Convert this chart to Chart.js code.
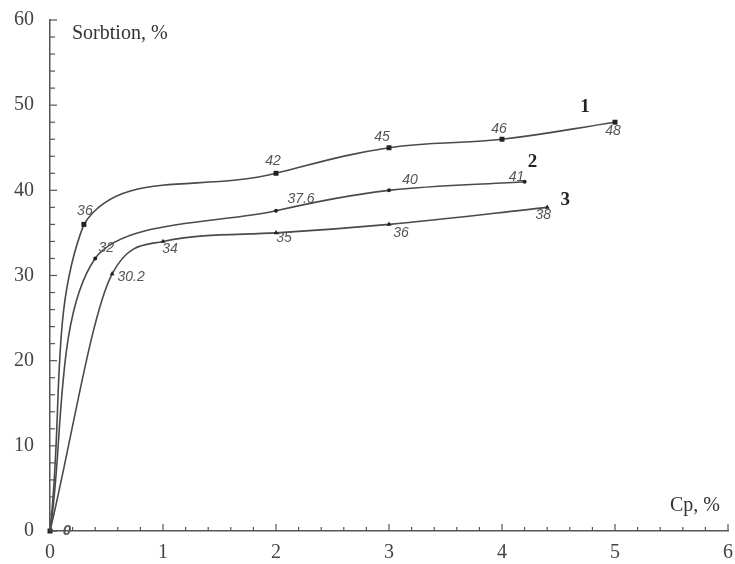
<!DOCTYPE html>
<html>
<head>
<meta charset="utf-8">
<script src="https://cdn.jsdelivr.net/npm/chart.js@4.4.1/dist/chart.umd.min.js"></script>
<style>
  html, body { margin: 0; padding: 0; background: #ffffff; }
  #wrap { width: 735px; height: 564px; }
</style>
</head>
<body>
<div id="wrap"><canvas id="c" width="735" height="564"></canvas></div>
<script>
// ---- data ----
const series1X = [0, 0.3, 2, 3, 4, 5];
const series1Y = [0, 36, 42, 45, 46, 48];
const series2X = [0, 0.4, 2, 3, 4.2];
const series2Y = [0, 32, 37.6, 40, 41];
const series3X = [0, 0.55, 1, 2, 3, 4.4];
const series3Y = [0, 30.2, 34, 35, 36, 38];
const seriesNames = ['1', '2', '3'];
const xTickLabels = [0, 1, 2, 3, 4, 5, 6];
const yTickLabels = [0, 10, 20, 30, 40, 50, 60];
const xTitle = 'Cp, %';
const yTitle = 'Sorbtion, %';

// ---- styles (label offsets in pixels relative to the point) ----
const labelOffsets = [
  [null, [1, -13], [-3, -12], [-7, -11], [-3, -10], [-2, 9]],
  [null, [11, -10], [25, -12], [21, -10], [-8, -5]],
  [null, [19, 3], [7, 8], [8, 5], [12, 9], [-4, 8]]
];
const nameOffsets = [[-30, -15], [8, -20], [18, -7]];
const lineColor = '#4a4a4a';

function pts(xs, ys) { return xs.map((x, i) => ({ x: x, y: ys[i] })); }

const datasets = [
  { data: pts(series1X, series1Y), pointStyle: 'rect', pointRadius: 3.5, tension: 0.4 },
  { data: pts(series2X, series2Y), pointStyle: 'circle', pointRadius: 2, tension: 0.3 },
  { data: pts(series3X, series3Y), pointStyle: 'triangle', pointRadius: 2.8, cubicInterpolationMode: 'monotone' }
].map(d => Object.assign(d, {
  borderColor: lineColor,
  backgroundColor: '#222',
  pointBackgroundColor: '#222',
  pointBorderColor: '#222',
  pointBorderWidth: 0,
  borderWidth: 1.6,
  fill: false,
  clip: false
}));

const ticksPlugin = {
  id: 'innerTicks',
  afterDraw(chart) {
    const ctx = chart.ctx;
    const xs = chart.scales.x, ys = chart.scales.y;
    const area = chart.chartArea;
    ctx.save();
    ctx.strokeStyle = '#555';
    ctx.lineWidth = 1.2;
    for (let k = 0; k <= 30; k++) {
      const v = k * 0.2;
      const px = xs.getPixelForValue(v);
      const len = (k % 5 === 0) ? 7 : 4;
      ctx.beginPath();
      ctx.moveTo(px, area.bottom);
      ctx.lineTo(px, area.bottom - len);
      ctx.stroke();
    }
    for (let k = 0; k <= 30; k++) {
      const v = k * 2;
      const py = ys.getPixelForValue(v);
      const len = (k % 5 === 0) ? 7 : 5;
      ctx.beginPath();
      ctx.moveTo(area.left, py);
      ctx.lineTo(area.left + len, py);
      ctx.stroke();
    }
    ctx.fillStyle = '#333';
    ctx.font = '20px "Liberation Serif", serif';
    ctx.textBaseline = 'middle';
    ctx.textAlign = 'left';
    ctx.fillText(yTitle, area.left + 22, ys.getPixelForValue(60) + 14);
    ctx.textAlign = 'right';
    ctx.fillText(xTitle, area.right - 8, area.bottom - 25);
    ctx.restore();
  }
};

const labelsPlugin = {
  id: 'pointLabels',
  afterDatasetsDraw(chart) {
    const ctx = chart.ctx;
    ctx.save();
    ctx.fillStyle = '#555';
    ctx.font = 'italic 14px "Liberation Sans", Arial, sans-serif';
    ctx.textAlign = 'center';
    ctx.textBaseline = 'middle';
    chart.data.datasets.forEach((ds, di) => {
      const meta = chart.getDatasetMeta(di);
      meta.data.forEach((el, i) => {
        const off = labelOffsets[di][i];
        if (!off) return;
        ctx.fillText(String(ds.data[i].y), el.x + off[0], el.y + off[1]);
      });
    });
    const m0 = chart.getDatasetMeta(0).data[0];
    ctx.font = 'italic bold 15px "Liberation Sans", Arial, sans-serif';
    ctx.fillText(String(series1Y[0]), m0.x + 17, m0.y);
    ctx.fillStyle = '#222';
    ctx.font = 'bold 19px "Liberation Serif", serif';
    chart.data.datasets.forEach((ds, di) => {
      const meta = chart.getDatasetMeta(di);
      const last = meta.data[meta.data.length - 1];
      ctx.fillText(seriesNames[di], last.x + nameOffsets[di][0], last.y + nameOffsets[di][1]);
    });
    ctx.restore();
  }
};

new Chart(document.getElementById('c'), {
  type: 'line',
  data: { datasets: datasets },
  options: {
    responsive: false,
    animation: false,
    devicePixelRatio: 1,
    layout: { padding: { left: 0, top: 20, right: 7, bottom: 0 } },
    plugins: { legend: { display: false }, tooltip: { enabled: false } },
    elements: { line: { capBezierPoints: true } },
    scales: {
      x: {
        type: 'linear',
        min: 0, max: 6,
        afterBuildTicks(scale) { scale.ticks = xTickLabels.map(v => ({ value: v })); },
        afterFit(scale) {
          scale.height = 33;
          scale.paddingLeft = 0; scale.paddingRight = 0;
          scale.paddingTop = 0; scale.paddingBottom = 0;
        },
        grid: { display: true, drawOnChartArea: false, drawTicks: false },
        border: { display: true, color: '#555', width: 1.5 },
        ticks: {
          color: '#444',
          padding: 10,
          maxRotation: 0,
          font: { family: '"Liberation Serif", serif', size: 20 }
        }
      },
      y: {
        type: 'linear',
        min: 0, max: 60,
        afterBuildTicks(scale) { scale.ticks = yTickLabels.map(v => ({ value: v })); },
        afterFit(scale) {
          scale.width = 50;
          scale.paddingLeft = 0; scale.paddingRight = 0;
          scale.paddingTop = 0; scale.paddingBottom = 0;
        },
        grid: { display: true, drawOnChartArea: false, drawTicks: false },
        border: { display: true, color: '#555', width: 1.5 },
        ticks: {
          color: '#444',
          padding: 16,
          font: { family: '"Liberation Serif", serif', size: 20 }
        }
      }
    }
  },
  plugins: [ticksPlugin, labelsPlugin]
});
</script>
</body>
</html>
